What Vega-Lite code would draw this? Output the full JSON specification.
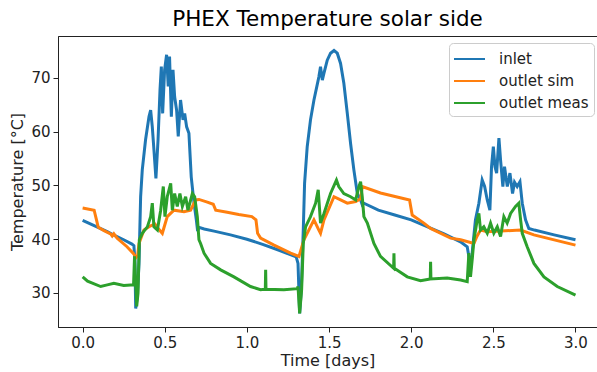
{
"$schema": "https://vega.github.io/schema/vega-lite/v6.json",
"width": 539, "height": 291,
"autosize": "none",
"padding": {"left": 58, "top": 36, "right": 0, "bottom": 45},
"title": {"text": "PHEX Temperature solar side", "fontSize": 21.5, "font": "DejaVu Sans", "fontWeight": "normal", "offset": 6, "color": "#000"},
"config": {
  "view": {"stroke": "#222", "strokeWidth": 1},
  "axis": {"domainColor": "#222", "tickColor": "#222", "tickSize": 5, "labelPadding": 3, "labelFont": "DejaVu Sans", "labelFontSize": 15, "labelColor": "#222", "titleFont": "DejaVu Sans", "titleFontSize": 16, "titleFontWeight": "normal", "titleColor": "#222", "grid": false}
},
"data": {"values": [
{"s":"inlet","t":0.0,"T":43.5},{"s":"inlet","t":0.05,"T":42.8},{"s":"inlet","t":0.1,"T":42.1},{"s":"inlet","t":0.15,"T":41.4},{"s":"inlet","t":0.2,"T":40.6},{"s":"inlet","t":0.25,"T":39.9},{"s":"inlet","t":0.3,"T":39.1},{"s":"inlet","t":0.312,"T":38.8},{"s":"inlet","t":0.318,"T":36.1},{"s":"inlet","t":0.323,"T":27.1},{"s":"inlet","t":0.333,"T":29.3},{"s":"inlet","t":0.343,"T":35.5},{"s":"inlet","t":0.353,"T":47.9},{"s":"inlet","t":0.363,"T":52.9},{"s":"inlet","t":0.383,"T":58.5},{"s":"inlet","t":0.404,"T":62.8},{"s":"inlet","t":0.414,"T":64.0},{"s":"inlet","t":0.424,"T":60.9},{"s":"inlet","t":0.434,"T":56.6},{"s":"inlet","t":0.446,"T":51.3},{"s":"inlet","t":0.459,"T":58.5},{"s":"inlet","t":0.471,"T":67.8},{"s":"inlet","t":0.479,"T":72.1},{"s":"inlet","t":0.487,"T":63.4},{"s":"inlet","t":0.499,"T":71.5},{"s":"inlet","t":0.511,"T":74.3},{"s":"inlet","t":0.521,"T":68.4},{"s":"inlet","t":0.529,"T":74.0},{"s":"inlet","t":0.54,"T":62.8},{"s":"inlet","t":0.55,"T":71.5},{"s":"inlet","t":0.56,"T":66.5},{"s":"inlet","t":0.572,"T":64.0},{"s":"inlet","t":0.582,"T":59.1},{"s":"inlet","t":0.596,"T":65.9},{"s":"inlet","t":0.611,"T":62.2},{"s":"inlet","t":0.621,"T":63.4},{"s":"inlet","t":0.633,"T":60.9},{"s":"inlet","t":0.647,"T":59.7},{"s":"inlet","t":0.661,"T":51.6},{"s":"inlet","t":0.678,"T":46.7},{"s":"inlet","t":0.692,"T":43.6},{"s":"inlet","t":0.7,"T":41.5},{"s":"inlet","t":0.708,"T":42.2},{"s":"inlet","t":0.74,"T":41.9},{"s":"inlet","t":0.8,"T":41.5},{"s":"inlet","t":0.9,"T":40.8},{"s":"inlet","t":1.0,"T":40.0},{"s":"inlet","t":1.1,"T":39.0},{"s":"inlet","t":1.2,"T":37.9},{"s":"inlet","t":1.3,"T":36.7},{"s":"inlet","t":1.311,"T":35.5},{"s":"inlet","t":1.321,"T":26.2},{"s":"inlet","t":1.331,"T":30.6},{"s":"inlet","t":1.343,"T":41.7},{"s":"inlet","t":1.351,"T":50.4},{"s":"inlet","t":1.367,"T":57.2},{"s":"inlet","t":1.387,"T":62.2},{"s":"inlet","t":1.408,"T":65.9},{"s":"inlet","t":1.438,"T":70.2},{"s":"inlet","t":1.448,"T":72.1},{"s":"inlet","t":1.459,"T":69.6},{"s":"inlet","t":1.469,"T":70.9},{"s":"inlet","t":1.489,"T":73.3},{"s":"inlet","t":1.509,"T":74.6},{"s":"inlet","t":1.53,"T":75.1},{"s":"inlet","t":1.55,"T":74.6},{"s":"inlet","t":1.57,"T":72.7},{"s":"inlet","t":1.59,"T":69.0},{"s":"inlet","t":1.611,"T":63.4},{"s":"inlet","t":1.631,"T":57.8},{"s":"inlet","t":1.651,"T":52.9},{"s":"inlet","t":1.672,"T":48.5},{"s":"inlet","t":1.692,"T":47.3},{"s":"inlet","t":1.702,"T":46.4},{"s":"inlet","t":1.712,"T":46.7},{"s":"inlet","t":1.8,"T":45.4},{"s":"inlet","t":1.9,"T":44.5},{"s":"inlet","t":2.0,"T":43.6},{"s":"inlet","t":2.1,"T":42.3},{"s":"inlet","t":2.2,"T":41.0},{"s":"inlet","t":2.3,"T":39.5},{"s":"inlet","t":2.341,"T":38.6},{"s":"inlet","t":2.351,"T":36.8},{"s":"inlet","t":2.361,"T":34.3},{"s":"inlet","t":2.371,"T":37.4},{"s":"inlet","t":2.391,"T":43.6},{"s":"inlet","t":2.412,"T":46.7},{"s":"inlet","t":2.432,"T":51.0},{"s":"inlet","t":2.447,"T":49.8},{"s":"inlet","t":2.463,"T":47.3},{"s":"inlet","t":2.479,"T":45.4},{"s":"inlet","t":2.489,"T":53.5},{"s":"inlet","t":2.5,"T":57.2},{"s":"inlet","t":2.51,"T":53.5},{"s":"inlet","t":2.52,"T":52.3},{"s":"inlet","t":2.534,"T":58.8},{"s":"inlet","t":2.544,"T":54.7},{"s":"inlet","t":2.558,"T":49.8},{"s":"inlet","t":2.568,"T":53.5},{"s":"inlet","t":2.585,"T":49.8},{"s":"inlet","t":2.601,"T":52.3},{"s":"inlet","t":2.617,"T":48.5},{"s":"inlet","t":2.629,"T":50.6},{"s":"inlet","t":2.645,"T":49.8},{"s":"inlet","t":2.662,"T":50.7},{"s":"inlet","t":2.676,"T":46.7},{"s":"inlet","t":2.696,"T":43.6},{"s":"inlet","t":2.716,"T":42.0},{"s":"inlet","t":2.75,"T":41.7},{"s":"inlet","t":2.87,"T":40.8},{"s":"inlet","t":3.0,"T":39.9},
{"s":"outlet sim","t":0.0,"T":45.8},{"s":"outlet sim","t":0.07,"T":45.4},{"s":"outlet sim","t":0.085,"T":43.5},{"s":"outlet sim","t":0.095,"T":42.2},{"s":"outlet sim","t":0.13,"T":41.6},{"s":"outlet sim","t":0.17,"T":41.0},{"s":"outlet sim","t":0.18,"T":40.6},{"s":"outlet sim","t":0.19,"T":41.0},{"s":"outlet sim","t":0.21,"T":40.2},{"s":"outlet sim","t":0.27,"T":38.6},{"s":"outlet sim","t":0.31,"T":37.3},{"s":"outlet sim","t":0.325,"T":36.6},{"s":"outlet sim","t":0.335,"T":37.0},{"s":"outlet sim","t":0.343,"T":39.2},{"s":"outlet sim","t":0.373,"T":41.7},{"s":"outlet sim","t":0.414,"T":42.5},{"s":"outlet sim","t":0.44,"T":42.8},{"s":"outlet sim","t":0.46,"T":42.0},{"s":"outlet sim","t":0.485,"T":41.1},{"s":"outlet sim","t":0.515,"T":44.2},{"s":"outlet sim","t":0.556,"T":45.4},{"s":"outlet sim","t":0.617,"T":45.1},{"s":"outlet sim","t":0.657,"T":45.4},{"s":"outlet sim","t":0.688,"T":47.3},{"s":"outlet sim","t":0.708,"T":47.4},{"s":"outlet sim","t":0.759,"T":46.9},{"s":"outlet sim","t":0.795,"T":46.5},{"s":"outlet sim","t":0.81,"T":45.4},{"s":"outlet sim","t":0.88,"T":45.0},{"s":"outlet sim","t":0.95,"T":44.6},{"s":"outlet sim","t":1.03,"T":44.2},{"s":"outlet sim","t":1.055,"T":43.6},{"s":"outlet sim","t":1.065,"T":41.1},{"s":"outlet sim","t":1.083,"T":40.2},{"s":"outlet sim","t":1.165,"T":38.9},{"s":"outlet sim","t":1.266,"T":37.4},{"s":"outlet sim","t":1.317,"T":36.8},{"s":"outlet sim","t":1.347,"T":39.9},{"s":"outlet sim","t":1.408,"T":43.6},{"s":"outlet sim","t":1.438,"T":41.7},{"s":"outlet sim","t":1.448,"T":41.1},{"s":"outlet sim","t":1.469,"T":43.6},{"s":"outlet sim","t":1.53,"T":47.9},{"s":"outlet sim","t":1.57,"T":47.3},{"s":"outlet sim","t":1.611,"T":46.7},{"s":"outlet sim","t":1.662,"T":47.0},{"s":"outlet sim","t":1.692,"T":47.5},{"s":"outlet sim","t":1.702,"T":49.8},{"s":"outlet sim","t":1.813,"T":48.6},{"s":"outlet sim","t":1.99,"T":47.3},{"s":"outlet sim","t":2.006,"T":44.5},{"s":"outlet sim","t":2.077,"T":43.0},{"s":"outlet sim","t":2.118,"T":42.0},{"s":"outlet sim","t":2.24,"T":40.2},{"s":"outlet sim","t":2.301,"T":39.9},{"s":"outlet sim","t":2.382,"T":39.2},{"s":"outlet sim","t":2.4,"T":40.5},{"s":"outlet sim","t":2.422,"T":41.7},{"s":"outlet sim","t":2.463,"T":41.4},{"s":"outlet sim","t":2.665,"T":41.7},{"s":"outlet sim","t":2.747,"T":40.8},{"s":"outlet sim","t":3.0,"T":38.9},
{"s":"outlet meas","t":0.0,"T":33.0},{"s":"outlet meas","t":0.03,"T":32.2},{"s":"outlet meas","t":0.11,"T":31.2},{"s":"outlet meas","t":0.15,"T":31.5},{"s":"outlet meas","t":0.19,"T":31.8},{"s":"outlet meas","t":0.25,"T":31.4},{"s":"outlet meas","t":0.292,"T":31.5},{"s":"outlet meas","t":0.31,"T":31.5},{"s":"outlet meas","t":0.316,"T":36.8},{"s":"outlet meas","t":0.323,"T":31.8},{"s":"outlet meas","t":0.329,"T":27.5},{"s":"outlet meas","t":0.337,"T":29.9},{"s":"outlet meas","t":0.345,"T":39.9},{"s":"outlet meas","t":0.363,"T":41.1},{"s":"outlet meas","t":0.394,"T":42.3},{"s":"outlet meas","t":0.414,"T":44.2},{"s":"outlet meas","t":0.424,"T":46.7},{"s":"outlet meas","t":0.434,"T":42.3},{"s":"outlet meas","t":0.455,"T":41.7},{"s":"outlet meas","t":0.475,"T":45.4},{"s":"outlet meas","t":0.491,"T":49.8},{"s":"outlet meas","t":0.501,"T":44.2},{"s":"outlet meas","t":0.515,"T":47.9},{"s":"outlet meas","t":0.536,"T":50.4},{"s":"outlet meas","t":0.546,"T":45.4},{"s":"outlet meas","t":0.56,"T":48.5},{"s":"outlet meas","t":0.576,"T":46.1},{"s":"outlet meas","t":0.592,"T":48.5},{"s":"outlet meas","t":0.607,"T":46.1},{"s":"outlet meas","t":0.627,"T":47.9},{"s":"outlet meas","t":0.641,"T":45.4},{"s":"outlet meas","t":0.668,"T":48.5},{"s":"outlet meas","t":0.682,"T":47.9},{"s":"outlet meas","t":0.698,"T":44.2},{"s":"outlet meas","t":0.708,"T":39.9},{"s":"outlet meas","t":0.718,"T":39.2},{"s":"outlet meas","t":0.739,"T":37.4},{"s":"outlet meas","t":0.779,"T":35.5},{"s":"outlet meas","t":0.84,"T":34.3},{"s":"outlet meas","t":0.921,"T":33.0},{"s":"outlet meas","t":1.022,"T":31.2},{"s":"outlet meas","t":1.083,"T":30.6},{"s":"outlet meas","t":1.112,"T":30.7},{"s":"outlet meas","t":1.114,"T":34.3},{"s":"outlet meas","t":1.116,"T":30.7},{"s":"outlet meas","t":1.225,"T":30.6},{"s":"outlet meas","t":1.307,"T":30.8},{"s":"outlet meas","t":1.311,"T":31.2},{"s":"outlet meas","t":1.321,"T":26.2},{"s":"outlet meas","t":1.333,"T":30.6},{"s":"outlet meas","t":1.343,"T":39.2},{"s":"outlet meas","t":1.357,"T":42.3},{"s":"outlet meas","t":1.387,"T":44.2},{"s":"outlet meas","t":1.418,"T":46.7},{"s":"outlet meas","t":1.434,"T":49.2},{"s":"outlet meas","t":1.448,"T":43.0},{"s":"outlet meas","t":1.469,"T":44.8},{"s":"outlet meas","t":1.509,"T":48.5},{"s":"outlet meas","t":1.545,"T":51.0},{"s":"outlet meas","t":1.559,"T":49.8},{"s":"outlet meas","t":1.59,"T":48.5},{"s":"outlet meas","t":1.631,"T":47.9},{"s":"outlet meas","t":1.662,"T":47.3},{"s":"outlet meas","t":1.682,"T":49.8},{"s":"outlet meas","t":1.692,"T":50.7},{"s":"outlet meas","t":1.702,"T":47.9},{"s":"outlet meas","t":1.712,"T":44.2},{"s":"outlet meas","t":1.733,"T":43.0},{"s":"outlet meas","t":1.773,"T":39.2},{"s":"outlet meas","t":1.813,"T":36.8},{"s":"outlet meas","t":1.893,"T":34.6},{"s":"outlet meas","t":1.895,"T":37.4},{"s":"outlet meas","t":1.897,"T":34.6},{"s":"outlet meas","t":1.976,"T":33.0},{"s":"outlet meas","t":2.057,"T":32.3},{"s":"outlet meas","t":2.116,"T":32.6},{"s":"outlet meas","t":2.118,"T":35.8},{"s":"outlet meas","t":2.12,"T":32.6},{"s":"outlet meas","t":2.219,"T":32.8},{"s":"outlet meas","t":2.301,"T":32.4},{"s":"outlet meas","t":2.341,"T":32.1},{"s":"outlet meas","t":2.351,"T":37.4},{"s":"outlet meas","t":2.361,"T":33.0},{"s":"outlet meas","t":2.371,"T":36.1},{"s":"outlet meas","t":2.382,"T":39.9},{"s":"outlet meas","t":2.402,"T":43.6},{"s":"outlet meas","t":2.412,"T":44.8},{"s":"outlet meas","t":2.422,"T":41.7},{"s":"outlet meas","t":2.442,"T":42.3},{"s":"outlet meas","t":2.463,"T":41.1},{"s":"outlet meas","t":2.483,"T":43.0},{"s":"outlet meas","t":2.503,"T":41.1},{"s":"outlet meas","t":2.524,"T":42.3},{"s":"outlet meas","t":2.544,"T":40.5},{"s":"outlet meas","t":2.564,"T":44.2},{"s":"outlet meas","t":2.584,"T":43.0},{"s":"outlet meas","t":2.605,"T":44.8},{"s":"outlet meas","t":2.635,"T":46.1},{"s":"outlet meas","t":2.655,"T":46.7},{"s":"outlet meas","t":2.666,"T":43.6},{"s":"outlet meas","t":2.676,"T":41.1},{"s":"outlet meas","t":2.706,"T":38.6},{"s":"outlet meas","t":2.747,"T":35.5},{"s":"outlet meas","t":2.808,"T":33.0},{"s":"outlet meas","t":2.889,"T":31.2},{"s":"outlet meas","t":3.0,"T":29.6}
]},
"mark": {"type": "line", "strokeWidth": 3, "clip": true},
"encoding": {
  "x": {"field": "t", "type": "quantitative", "scale": {"domain": [-0.15, 3.131], "nice": false, "zero": false},
        "axis": {"values": [0, 0.5, 1, 1.5, 2, 2.5, 3], "format": ".1f", "title": "Time [days]", "titlePadding": 2}},
  "y": {"field": "T", "type": "quantitative", "scale": {"domain": [23.67, 77.8], "nice": false, "zero": false},
        "axis": {"values": [30, 40, 50, 60, 70], "format": "d", "title": "Temperature [°C]", "titlePadding": 5}},
  "color": {"field": "s", "type": "nominal", "sort": ["inlet", "outlet sim", "outlet meas"],
        "scale": {"domain": ["inlet", "outlet sim", "outlet meas"], "range": ["#1f77b4", "#ff7f0e", "#2ca02c"]},
        "legend": {"orient": "none", "legendX": 391, "legendY": 7, "title": null, "symbolType": "M-1.55,0L1.55,0", "symbolStrokeWidth": 2, "symbolSize": 400, "labelFontSize": 15, "labelFont": "DejaVu Sans", "labelColor": "#222", "padding": 5, "strokeColor": "#ccc", "fillColor": "rgba(255,255,255,0.8)", "cornerRadius": 4, "rowPadding": 3, "labelOffset": 23,
          "encode": {"symbols": {"update": {"x": {"value": 15.5}}}}}}
}
}
